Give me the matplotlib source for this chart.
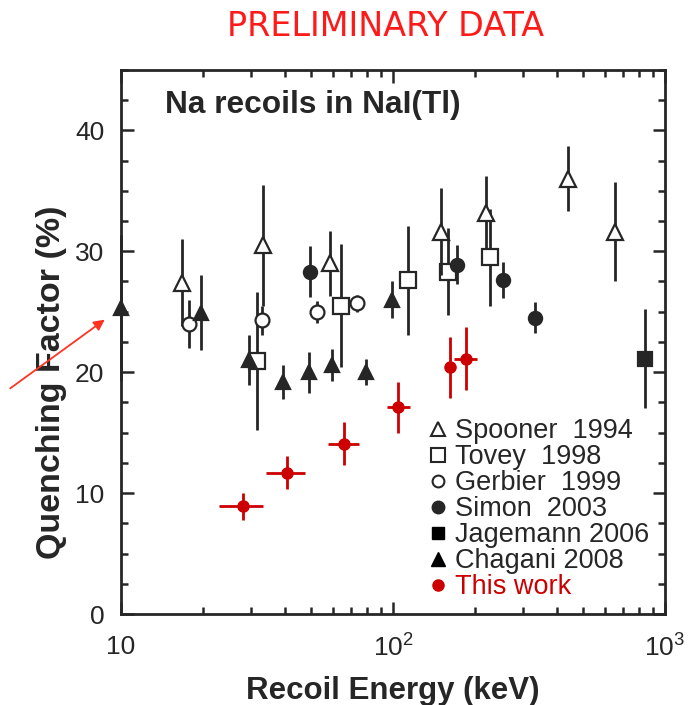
import matplotlib
matplotlib.use("Agg")
import matplotlib.pyplot as plt
from matplotlib.lines import Line2D
from matplotlib.ticker import FixedLocator, NullFormatter, MultipleLocator

plt.rcParams['font.family'] = ['Liberation Sans', 'DejaVu Sans']

# Spooner 1994 (open triangles)
spooner_e = [16.8, 33.3, 58.6, 150, 220, 440, 655]
spooner_q = [27.4, 30.5, 29.0, 31.6, 33.2, 36.0, 31.6]
spooner_err = [3.6, 5.0, 2.7, 3.6, 3.0, 2.7, 4.1]

# Tovey 1998 (open squares)
tovey_e = [31.6, 64.4, 113.5, 159, 227.5]
tovey_q = [20.9, 25.5, 27.6, 28.3, 29.5]
tovey_err = [5.7, 5.1, 4.5, 3.6, 4.0]

# Gerbier 1999 (open circles)
gerbier_e = [17.8, 33.0, 52.5, 73.8]
gerbier_q = [24.0, 24.3, 25.0, 25.7]
gerbier_err = [2.0, 1.2, 0.9, 0.7]

# Simon 2003 (filled circles)
simon_e = [49.5, 172, 253.6, 332.6]
simon_q = [28.3, 28.9, 27.6, 24.5]
simon_err = [2.1, 1.6, 1.5, 1.3]

# Jagemann 2006 (filled square)
jagemann_e = [843]
jagemann_q = [21.1]
jagemann_err = [4.1]

# Chagani 2008 (filled triangles)
chagani_e = [10.0, 19.7, 29.6, 39.5, 49.1, 59.7, 79.6, 99.2]
chagani_q = [25.3, 24.9, 21.0, 19.2, 20.0, 20.6, 20.0, 26.0]
chagani_err = [6.0, 3.1, 2.1, 1.4, 1.7, 1.3, 1.1, 1.5]

# This work (red), asymmetric energy errors
work_e = [28.1, 40.7, 66.1, 104, 162, 185]
work_e_lo = [22.9, 34.2, 57.7, 95, 160, 167]
work_e_hi = [33.3, 47.5, 75.0, 115, 164, 203]
work_q = [8.9, 11.7, 14.1, 17.1, 20.4, 21.1]
work_err = [1.15, 1.4, 1.8, 2.1, 2.5, 2.6]

dark = '#262626'
red = '#cc0000'

fig = plt.figure(figsize=(6.92, 7.05), dpi=100)
ax = fig.add_axes([0.175, 0.129, 0.786, 0.772])

def plot_set(e, q, err, marker, ms, face, zorder):
    ax.errorbar(e, q, yerr=err, fmt=marker, ms=ms, mfc=face, mec=dark, mew=1.6,
                ecolor=dark, elinewidth=2.0, capsize=0, zorder=zorder, clip_on=False)

plot_set(tovey_e, tovey_q, tovey_err, 's', 11, 'white', 3)
plot_set(spooner_e, spooner_q, spooner_err, '^', 11, 'white', 4)
plot_set(gerbier_e, gerbier_q, gerbier_err, 'o', 10, 'white', 4)
plot_set(simon_e, simon_q, simon_err, 'o', 9.5, dark, 5)
plot_set(jagemann_e, jagemann_q, jagemann_err, 's', 9.5, dark, 5)
plot_set(chagani_e, chagani_q, chagani_err, '^', 9.5, dark, 5)

xerr = [[c - lo for c, lo in zip(work_e, work_e_lo)],
        [hi - c for c, hi in zip(work_e, work_e_hi)]]
ax.errorbar(work_e, work_q, xerr=xerr, yerr=work_err, fmt='o', ms=8,
            color=red, ecolor=red, elinewidth=2.0, capsize=0, zorder=6)

ax.set_xscale('log')
ax.set_xlim(10, 1000)
ax.set_ylim(0, 45)

ax.set_xticks([10, 100, 1000])
ax.set_xticklabels(['10', r'$\mathregular{10^2}$', r'$\mathregular{10^3}$'])
ax.xaxis.set_minor_locator(FixedLocator([k * 10 ** d for d in (1, 2) for k in range(2, 10)]))
ax.xaxis.set_minor_formatter(NullFormatter())
ax.yaxis.set_major_locator(MultipleLocator(10))
ax.yaxis.set_minor_locator(MultipleLocator(2.5))

ax.tick_params(which='both', direction='in', top=True, right=True, width=1.8, color=dark,
               labelsize=19, labelcolor=dark)
ax.tick_params(axis='y', pad=12)
ax.tick_params(axis='x', pad=15)
ax.tick_params(which='major', length=9)
ax.tick_params(which='minor', length=5)
for s in ax.spines.values():
    s.set_linewidth(2.0)
    s.set_color(dark)

ax.set_xlabel('Recoil Energy (keV)', fontsize=22.5, fontweight='bold', color=dark, labelpad=10)
ax.set_ylabel('Quenching Factor (%)', fontsize=24.5, fontweight='bold', color=dark)
ax.yaxis.set_label_coords(-0.10, 0.426)

ax.text(0.08, 0.935, 'Na recoils in NaI(Tl)', transform=ax.transAxes, fontsize=22.8,
        fontweight='bold', color=dark, va='center', ha='left')

handles = [
    Line2D([], [], ls='none', marker='^', ms=10, mfc='white', mec=dark, mew=1.5),
    Line2D([], [], ls='none', marker='s', ms=10, mfc='white', mec=dark, mew=1.5),
    Line2D([], [], ls='none', marker='o', ms=8.5, mfc='white', mec=dark, mew=1.5),
    Line2D([], [], ls='none', marker='o', ms=9, mfc=dark, mec=dark),
    Line2D([], [], ls='none', marker='s', ms=8, mfc='black', mec='black'),
    Line2D([], [], ls='none', marker='^', ms=10, mfc='black', mec='black'),
    Line2D([], [], ls='none', marker='o', ms=8, mfc=red, mec=red),
]
labels = ['Spooner  1994', 'Tovey  1998', 'Gerbier  1999', 'Simon  2003',
          'Jagemann 2006', 'Chagani 2008', 'This work']
leg = ax.legend(handles, labels, loc='upper left', bbox_to_anchor=(0.565, 0.36),
                frameon=False, fontsize=19.5, handlelength=0.7, handletextpad=0.3,
                labelspacing=0.0, borderpad=0, borderaxespad=0)
for t in leg.get_texts():
    t.set_color(dark)
leg.get_texts()[-1].set_color(red)

fig.text(386 / 692, 1 - 27 / 705, 'PRELIMINARY DATA', color='#ff1a1a', fontsize=24,
         ha='center', va='center', family=['DejaVu Sans'])

ax.annotate('', xy=(107 / 692, 1 - 318 / 705), xycoords='figure fraction',
            xytext=(8 / 692, 1 - 390 / 705), textcoords='figure fraction',
            arrowprops=dict(arrowstyle='-|>', color='#ff3322', lw=1.3, mutation_scale=16))

fig.savefig('out.png', dpi=100)
